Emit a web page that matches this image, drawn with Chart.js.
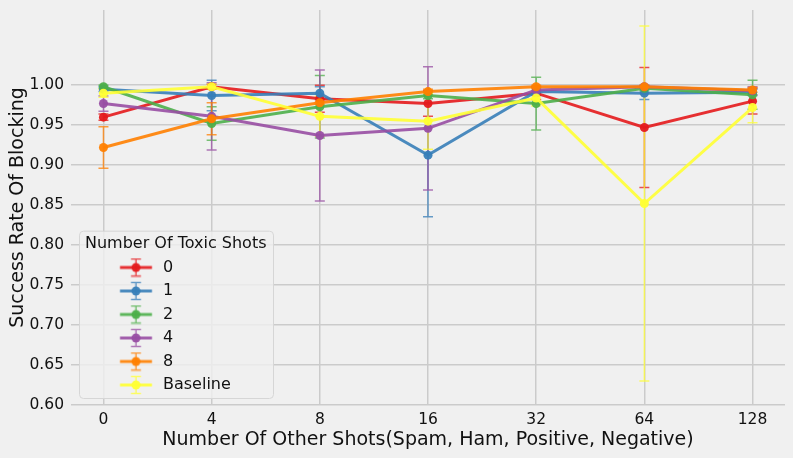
<!DOCTYPE html>
<html>
<head>
<meta charset="utf-8">
<script src="https://cdn.jsdelivr.net/npm/chart.js@4.4.1/dist/chart.umd.min.js"></script>
<style>
  html, body { margin: 0; padding: 0; background: #f0f0f0; }
  #wrap { width: 793px; height: 458px; }
</style>
</head>
<body>
<div id="wrap"><canvas id="c" width="793" height="458"></canvas></div>
<script>
// ---- data ----
const categories = ['0', '4', '8', '16', '32', '64', '128'];
const yTickValues = [0.60, 0.65, 0.70, 0.75, 0.80, 0.85, 0.90, 0.95, 1.00];
const seriesLabels = ['0', '1', '2', '4', '8', 'Baseline'];

const toxic0     = [0.960, 0.998, 0.983, 0.977, 0.990, 0.947, 0.980];
const toxic0Err  = [0.004, 0.003, 0.017, 0.016, 0.008, 0.075, 0.016];
const toxic1     = [0.995, 0.987, 0.990, 0.9125, 0.992, 0.990, 0.991];
const toxic1Err  = [0.003, 0.019, 0.008, 0.077, 0.005, 0.008, 0.004];
const toxic2     = [0.998, 0.952, 0.973, 0.987, 0.977, 0.996, 0.988];
const toxic2Err  = [0.002, 0.021, 0.039, 0.004, 0.033, 0.003, 0.018];
const toxic4     = [0.977, 0.961, 0.937, 0.946, 0.994, 0.998, 0.993];
const toxic4Err  = [0.0095, 0.042, 0.082, 0.077, 0.004, 0.002, 0.005];
const toxic8     = [0.922, 0.958, 0.978, 0.992, 0.998, 0.998, 0.994];
const toxic8Err  = [0.026, 0.020, 0.002, 0.003, 0.002, 0.002, 0.003];
const baseline    = [0.990, 0.998, 0.961, 0.955, 0.984, 0.852, 0.972];
const baselineErr = [0.005, 0.003, 0.025, 0.035, 0.010, 0.222, 0.019];

const seriesValues = [toxic0, toxic1, toxic2, toxic4, toxic8, baseline];
const seriesErrors = [toxic0Err, toxic1Err, toxic2Err, toxic4Err, toxic8Err, baselineErr];
const seriesColors = ['228,26,28', '55,126,184', '77,175,74', '152,78,163', '255,127,0', '255,255,51'];

const FONT = 'DejaVu Sans';
const TEXT = '#111111';

function rgba(c, a) { return 'rgba(' + c + ',' + a + ')'; }

// legend handle images (line + marker + error bar), like matplotlib's errorbar handle
function makeHandle(c) {
  const cv = document.createElement('canvas');
  cv.width = 62; cv.height = 20;
  const g = cv.getContext('2d');
  const cx = 43.25, cy = 10;
  g.strokeStyle = rgba(c, 0.75); g.lineWidth = 1.5;
  g.beginPath();
  g.moveTo(cx, cy - 8.5); g.lineTo(cx, cy + 8.5);
  g.moveTo(cx - 5, cy - 8.5); g.lineTo(cx + 5, cy - 8.5);
  g.moveTo(cx - 5, cy + 8.5); g.lineTo(cx + 5, cy + 8.5);
  g.stroke();
  g.strokeStyle = rgba(c, 0.9); g.lineWidth = 3;
  g.beginPath(); g.moveTo(27.25, cy); g.lineTo(59.25, cy); g.stroke();
  g.fillStyle = rgba(c, 0.95);
  g.beginPath(); g.arc(cx, cy, 4.5, 0, Math.PI * 2); g.fill();
  return cv;
}
const handles = seriesColors.map(makeHandle);

const datasets = seriesValues.map((vals, i) => ({
  label: seriesLabels[i],
  order: -i,
  data: vals.map((v, j) => ({ x: j, y: v })),
  borderColor: rgba(seriesColors[i], 0.9),
  backgroundColor: rgba(seriesColors[i], 0.95),
  pointBackgroundColor: rgba(seriesColors[i], 0.95),
  pointBorderColor: rgba(seriesColors[i], 0.95),
  borderWidth: 3,
  pointRadius: 4.5,
  pointBorderWidth: 0,
  pointHoverRadius: 4.5,
  tension: 0,
  errors: seriesErrors[i],
  errColor: rgba(seriesColors[i], 0.75)
}));

const errorBarPlugin = {
  id: 'errorBars',
  beforeDatasetsDraw(chart) {
    const ctx = chart.ctx, xs = chart.scales.x, ys = chart.scales.y;
    ctx.save();
    chart.data.datasets.forEach(ds => {
      ctx.strokeStyle = ds.errColor;
      ctx.lineWidth = 1.5;
      ds.data.forEach((p, j) => {
        const e = ds.errors[j];
        const x = xs.getPixelForValue(p.x);
        const yt = ys.getPixelForValue(p.y + e);
        const yb = ys.getPixelForValue(p.y - e);
        ctx.beginPath();
        ctx.moveTo(x, yt); ctx.lineTo(x, yb);
        ctx.moveTo(x - 5, yt); ctx.lineTo(x + 5, yt);
        ctx.moveTo(x - 5, yb); ctx.lineTo(x + 5, yb);
        ctx.stroke();
      });
    });
    ctx.restore();
  }
};

const legendPlacePlugin = {
  id: 'legendPlace',
  afterLayout(chart) {
    const lg = chart.legend, ca = chart.chartArea;
    lg.left = ca.left + 14;
    lg.right = lg.left + 200;
    lg.top = ca.top + 220.7;
    lg.bottom = lg.top + 200;
    lg.width = lg.right - lg.left;
    lg.height = lg.bottom - lg.top;
    if (!lg._boxPatched) {
      const orig = lg.draw;
      lg.draw = function () {
        const ctx = this.ctx;
        const x = this.left - 6, y = this.top, w = 194, h = 167.3, r = 4;
        ctx.save();
        ctx.beginPath();
        ctx.roundRect(x + 0.5, y + 0.5, w, h, r);
        ctx.fillStyle = 'rgba(240,240,240,0.8)';
        ctx.fill();
        ctx.strokeStyle = '#d6d6d6';
        ctx.lineWidth = 1;
        ctx.stroke();
        ctx.restore();
        orig.call(this);
      };
      lg._boxPatched = true;
    }
  }
};

new Chart(document.getElementById('c'), {
  type: 'line',
  data: { datasets },
  options: {
    responsive: false,
    animation: false,
    devicePixelRatio: 1,
    layout: { padding: { top: 10, right: 8, left: 0, bottom: 0 } },
    events: [],
    scales: {
      x: {
        type: 'linear',
        min: -0.3,
        max: 6.3,
        afterBuildTicks: s => { s.ticks = categories.map((c, i) => ({ value: i })); },
        afterFit: s => { s.height = 53; s.paddingLeft = 0; s.paddingRight = 0; },
        grid: { color: '#cbcbcb', lineWidth: 1.5, drawTicks: false, z: -1 },
        border: { display: false },
        ticks: {
          autoSkip: false, maxRotation: 0, padding: 6,
          color: TEXT, font: { family: FONT, size: 15.5 },
          callback: v => categories[v]
        },
        title: {
          display: true,
          text: 'Number Of Other Shots(Spam, Ham, Positive, Negative)',
          color: TEXT, font: { family: FONT, size: 19 },
          padding: { top: 0, bottom: 6.6 }
        }
      },
      y: {
        type: 'linear',
        min: 0.6,
        max: 1.094,
        afterBuildTicks: s => { s.ticks = yTickValues.map(v => ({ value: v })); },
        afterFit: s => { s.width = 71; s.paddingTop = 0; s.paddingBottom = 0; },
        grid: { color: '#cbcbcb', lineWidth: 1.5, drawTicks: false, z: -1 },
        border: { display: false },
        ticks: {
          padding: 7, color: TEXT, font: { family: FONT, size: 15.5 },
          callback: v => Number(v).toFixed(2)
        },
        title: {
          display: true,
          text: 'Success Rate Of Blocking',
          color: TEXT, font: { family: FONT, size: 19 },
          padding: { top: 6.6, bottom: 0 }
        }
      }
    },
    plugins: {
      tooltip: { enabled: false },
      legend: {
        display: true,
        position: 'chartArea',
        align: 'start',
        title: {
          display: true,
          text: 'Number Of Toxic Shots',
          position: 'start',
          color: TEXT,
          font: { family: FONT, size: 16, lineHeight: 1 },
          padding: { top: 5.3, bottom: 0 }
        },
        labels: {
          usePointStyle: true,
          pointStyleWidth: 62.5,
          padding: 7.5,
          color: TEXT,
          font: { family: FONT, size: 16 },
          generateLabels: chart => chart.data.datasets.map((ds, i) => ({
            text: ds.label,
            pointStyle: handles[i],
            fillStyle: ds.borderColor,
            strokeStyle: ds.borderColor,
            lineWidth: 0,
            hidden: false,
            datasetIndex: i,
            fontColor: TEXT
          }))
        }
      }
    }
  },
  plugins: [errorBarPlugin, legendPlacePlugin]
});
</script>
</body>
</html>
